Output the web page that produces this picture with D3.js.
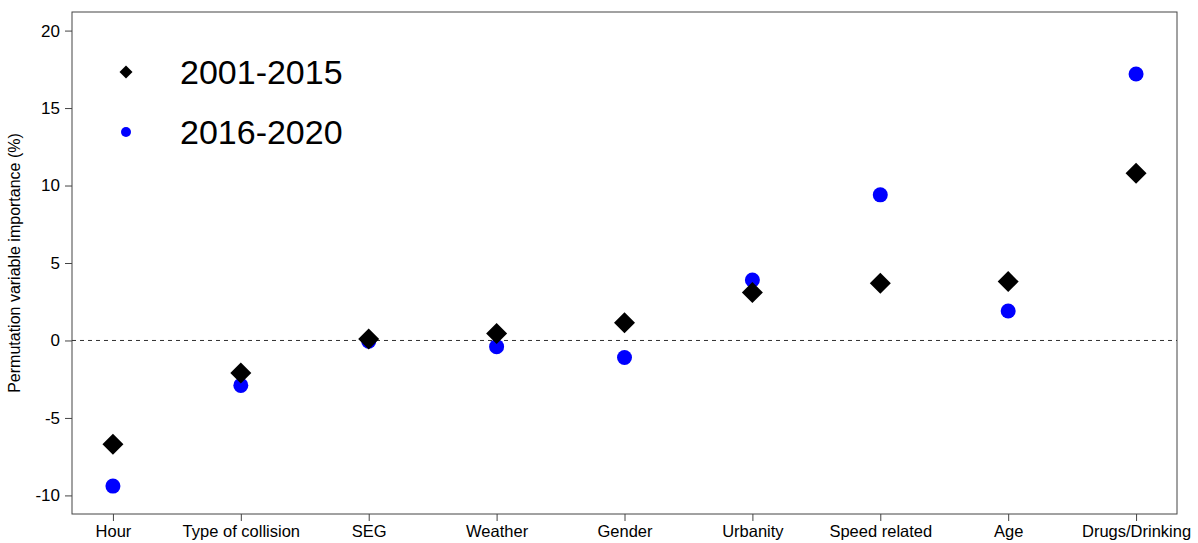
<!DOCTYPE html>
<html>
<head>
<meta charset="utf-8">
<script src="https://cdn.jsdelivr.net/npm/d3@7"></script>
<style>
  body { margin: 0; background: #fff; }
  text { font-family: "Liberation Sans", Arial, sans-serif; fill: #000; }
</style>
</head>
<body>
<div id="chart"></div>
<script>
// Data
const categories = ["Hour", "Type of collision", "SEG", "Weather", "Gender",
  "Urbanity", "Speed related", "Age", "Drugs/Drinking"];
const period1 = [-6.7, -2.1, 0.1, 0.45, 1.15, 3.1, 3.7, 3.8, 10.8];   // 2001-2015
const period2 = [-9.4, -2.9, -0.05, -0.4, -1.1, 3.9, 9.4, 1.9, 17.2]; // 2016-2020
const yTicks = [-10, -5, 0, 5, 10, 15, 20];
const seriesNames = ["2001-2015", "2016-2020"];

function createChart() {
  const W = 1198, H = 543;
  const margin = { top: 12, right: 21, bottom: 29, left: 72 };
  const width = W - margin.left - margin.right;
  const height = H - margin.top - margin.bottom;

  const svg = d3.select("#chart").append("svg")
    .attr("width", W)
    .attr("height", H);
  const g = svg.append("g")
    .attr("transform", `translate(${margin.left},${margin.top})`);

  // R-style scales with 4% padding
  const x = d3.scaleLinear()
    .domain([1 - 0.32, categories.length + 0.32])
    .range([0, width]);
  const y = d3.scaleLinear()
    .domain([-10 - 1.2, 20 + 1.2])
    .range([height, 0]);

  // box
  g.append("rect")
    .attr("width", width)
    .attr("height", height)
    .attr("fill", "none")
    .attr("stroke", "#444")
    .attr("stroke-width", 1);

  // zero line
  g.append("line")
    .attr("x1", 0).attr("x2", width)
    .attr("y1", y(0)).attr("y2", y(0))
    .attr("stroke", "#333")
    .attr("stroke-dasharray", "4,4");

  // y axis
  const yAxis = g.append("g")
    .call(d3.axisLeft(y).tickValues(yTicks).tickFormat(d => String(d))
      .tickSize(7).tickPadding(5));
  yAxis.select(".domain").remove();
  yAxis.selectAll("line").attr("stroke", "#444");
  yAxis.selectAll("text").style("font-size", "17px")
    .style("font-family", "Liberation Sans, Arial, sans-serif");

  // x axis
  const xAxis = g.append("g")
    .attr("transform", `translate(0,${height})`)
    .call(d3.axisBottom(x).tickValues(d3.range(1, categories.length + 1))
      .tickFormat(i => categories[i - 1]).tickSize(7).tickPadding(4));
  xAxis.select(".domain").remove();
  xAxis.selectAll("line").attr("stroke", "#444");
  xAxis.selectAll("text").style("font-size", "16.5px")
    .style("font-family", "Liberation Sans, Arial, sans-serif");

  // y label
  g.append("text")
    .attr("transform", `translate(${-52},${height / 2}) rotate(-90)`)
    .attr("text-anchor", "middle")
    .style("font-size", "16px")
    .text("Permutation variable importance (%)");

  const diamond = s => `M0,${-s}L${s},0L0,${s}L${-s},0Z`;

  // 2016-2020 circles
  g.selectAll(".p2")
    .data(period2)
    .enter().append("circle")
    .attr("class", "p2")
    .attr("cx", (d, i) => x(i + 1))
    .attr("cy", d => y(d))
    .attr("r", 7.5)
    .attr("fill", "#0000ff");

  // 2001-2015 diamonds
  g.selectAll(".p1")
    .data(period1)
    .enter().append("path")
    .attr("class", "p1")
    .attr("transform", (d, i) => `translate(${x(i + 1)},${y(d)})`)
    .attr("d", diamond(10.5))
    .attr("fill", "#000");

  // legend
  const leg = svg.append("g");
  leg.append("path")
    .attr("transform", "translate(126,72)")
    .attr("d", diamond(6.5))
    .attr("fill", "#000");
  leg.append("circle")
    .attr("cx", 126).attr("cy", 132).attr("r", 5)
    .attr("fill", "#0000ff");
  leg.selectAll(".lt")
    .data(seriesNames)
    .enter().append("text")
    .attr("class", "lt")
    .attr("x", 180)
    .attr("y", (d, i) => 72 + i * 60)
    .attr("dy", "0.35em")
    .style("font-size", "34px")
    .text(d => d);
}

createChart();
</script>
</body>
</html>
